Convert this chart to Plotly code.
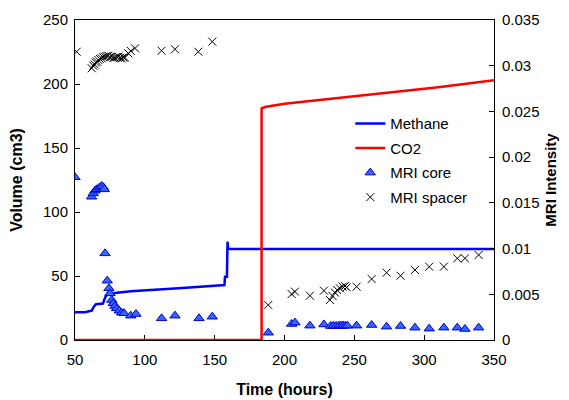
import plotly.graph_objects as go

# Methane volume (cm3), left axis
methane_t = [50, 57, 60, 62, 63.5, 65, 70, 71.5, 73.5, 75, 76, 80, 90, 100, 110, 127, 144, 156,
             157, 157.4, 158.8, 159.2, 159.6, 161, 165, 350]
methane_v = [21.6, 21.6, 22.5, 23, 26, 28, 28.5, 33, 36.5, 35.5, 36, 37, 38, 39, 39.5, 40.6, 41.7, 43,
             43, 49.5, 49.5, 76.8, 71.5, 71, 71, 71]

# CO2 volume (cm3), left axis
co2_t = [50, 183.6, 183.6, 186, 200, 220, 250, 280, 310, 350]
co2_v = [0, 0, 181, 182, 184.5, 187, 190.5, 194, 197.5, 203]

# MRI core intensity, right axis
core_t = [50, 61.9, 63.1, 64.3, 65.5, 67.4, 69.1, 70.3, 71.0, 71.5, 73.1, 74.3, 75.0,
          76.3, 77.4, 78.6, 79.8, 81.7, 83.4, 85.1, 89.9, 93.7, 112, 121.6, 138.8, 148.3,
          188.4, 205.1, 207.5, 218.2, 228.2, 233, 235, 237, 239, 240.5, 242, 243.5, 245,
          251.6, 262.4, 273.1, 283.1, 293.4, 303.6, 314.1, 323.7, 329.2, 339]
core_v = [0.0178, 0.01567, 0.01604, 0.01633, 0.01648, 0.01666, 0.01684, 0.0167, 0.01648, 0.00948,
          0.00649, 0.00565, 0.0051, 0.00438, 0.00401, 0.00372, 0.00346, 0.0032, 0.00298, 0.00292,
          0.00266, 0.00284, 0.00237, 0.00266, 0.00237, 0.00255,
          0.0008, 0.00175, 0.0019, 0.00157, 0.0017, 0.00153, 0.00155, 0.00153, 0.00157, 0.00155,
          0.00158, 0.00155, 0.00157,
          0.00157, 0.00164, 0.00146, 0.00153, 0.00135, 0.00124, 0.00135, 0.00135, 0.0012, 0.00135]

# MRI spacer intensity, right axis
spacer_t = [51.2, 62, 63.1, 64, 64.8, 65.8, 66.7, 67.8, 69.1, 70.2, 71.5, 72.6, 73.8, 75, 76.3,
            77.5, 78.6, 79.8, 81, 82.2, 83.4, 84.6, 85.8, 88.2, 90, 93, 112, 121.6, 138.3, 148.3,
            188.4, 205.1, 207.5, 218.2, 228.2, 232.5, 234.4, 236.1, 237.7, 239.7, 241.6, 243.3,
            244.5, 251.6, 262.4, 273.1, 283.1, 293.4, 303.6, 314.1, 323.7, 329.2, 339]
spacer_v = [0.03153, 0.02972, 0.03, 0.03015, 0.03037, 0.03045, 0.03062, 0.03075, 0.03081, 0.03095,
            0.03099, 0.03105, 0.0311, 0.03092, 0.03099, 0.03085, 0.03088, 0.03095, 0.03099, 0.03085,
            0.03081, 0.0309, 0.03088, 0.03135, 0.03161, 0.0319, 0.03164, 0.0318, 0.03153, 0.03263,
            0.00383, 0.00503, 0.00529, 0.00485, 0.0054, 0.00438, 0.00481, 0.00518, 0.00547, 0.00565,
            0.00583, 0.0059, 0.00576, 0.00583, 0.00667, 0.00736, 0.00703, 0.00766, 0.00802, 0.00802,
            0.00893, 0.00893, 0.0093]

x_ticks = [50, 100, 150, 200, 250, 300, 350]
y_ticks = [0, 50, 100, 150, 200, 250]
y2_ticks = [0, 0.005, 0.01, 0.015, 0.02, 0.025, 0.03, 0.035]
y2_labels = ["0", "0.005", "0.01", "0.015", "0.02", "0.025", "0.03", "0.035"]

FONT = "Liberation Sans, Arial, sans-serif"

fig = go.Figure()
fig.add_trace(go.Scatter(x=methane_t, y=methane_v, mode="lines", name="Methane",
                         line=dict(color="#0000ff", width=2.5), legendgroup="a"))
fig.add_trace(go.Scatter(x=co2_t, y=co2_v, mode="lines", name="CO2",
                         line=dict(color="#ff0000", width=2.5), legendgroup="b"))
fig.add_trace(go.Scatter(x=core_t, y=core_v, mode="markers", name="MRI core", yaxis="y2",
                         marker=dict(symbol="triangle-up", size=9, color="#3366ff",
                                     line=dict(color="#0000cc", width=1)), legendgroup="c"))
fig.add_trace(go.Scatter(x=spacer_t, y=spacer_v, mode="markers", name="MRI spacer", yaxis="y2",
                         marker=dict(symbol="x-thin", size=8, color="#000000",
                                     line=dict(color="#000000", width=1)), legendgroup="d"))

axis_common = dict(showgrid=False, zeroline=False, showline=True, linecolor="#000000",
                   linewidth=1, ticks="inside", ticklen=5, tickcolor="#000000", automargin=False,
                   tickfont=dict(family=FONT, size=15, color="#000000"))

fig.update_layout(
    width=569, height=400,
    margin=dict(l=75, r=75, t=20, b=60),
    paper_bgcolor="white", plot_bgcolor="white",
    font=dict(family=FONT, size=15, color="#000000"),
    xaxis=dict(range=[50, 350], tickvals=x_ticks, mirror=True, layer="below traces",
               ticklabelstandoff=6,
               title=dict(text="<b>Time (hours)</b>", font=dict(family=FONT, size=16), standoff=16),
               **axis_common),
    yaxis=dict(range=[0, 250], tickvals=y_ticks, layer="below traces", ticklabelstandoff=3,
               title=dict(text="<b>Volume (cm3)</b>", font=dict(family=FONT, size=16), standoff=16),
               **axis_common),
    yaxis2=dict(range=[0, 0.035], tickvals=y2_ticks, ticktext=y2_labels, overlaying="y", side="right",
                ticklabelstandoff=4,
                title=dict(text="<b>MRI Intensity</b>", font=dict(family=FONT, size=15), standoff=6),
                **axis_common),
    showlegend=True,
    legend=dict(x=0.657, y=0.727, xanchor="left", yanchor="top", bgcolor="rgba(255,255,255,0)",
                font=dict(family=FONT, size=15), tracegroupgap=2, itemwidth=30),
)

fig.write_html("out.html")
